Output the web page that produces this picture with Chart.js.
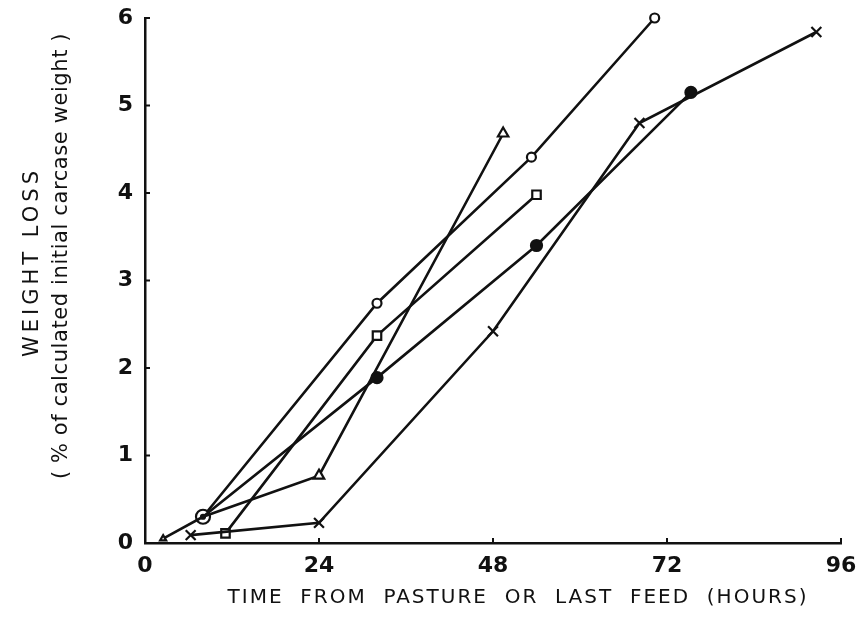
<!DOCTYPE html>
<html>
<head>
<meta charset="utf-8">
<script src="https://cdn.jsdelivr.net/npm/chart.js@4"></script>
<style>
  html, body { margin: 0; padding: 0; background: #fff; }
  #wrap { width: 861px; height: 626px; }
</style>
</head>
<body>
<div id="wrap"><canvas id="chart" width="861" height="626"></canvas></div>
<script>
// hours since pasture / last feed, weight loss in %
const xTicks = [0, 24, 48, 72, 96];
const yTicks = [0, 1, 2, 3, 4, 5, 6];

const circleHours = [8, 32, 53.3, 70.3];
const circleLoss = [0.3, 2.74, 4.41, 6.0];

const dotHours = [8, 32, 54, 75.3];
const dotLoss = [0.3, 1.89, 3.4, 5.15];

const triHours = [2.5, 8, 24, 49.4];
const triLoss = [0.05, 0.3, 0.77, 4.68];

const squareHours = [11.1, 32, 54];
const squareLoss = [0.11, 2.37, 3.98];

const crossHours = [6.3, 24, 48, 68.2, 92.6];
const crossLoss = [0.09, 0.23, 2.42, 4.8, 5.84];

const xTitle = 'TIME  FROM  PASTURE  OR  LAST  FEED  (HOURS)';
const yTitle1 = 'WEIGHT LOSS';
const yTitle2 = '( % of calculated initial carcase weight )';

function pts(xs, ys) {
  return xs.map((x, i) => ({ x: x, y: ys[i] }));
}

const ink = '#111';

function series(xs, ys, style, radius, fill) {
  return {
    data: pts(xs, ys),
    borderColor: ink,
    borderWidth: 2.6,
    pointStyle: style,
    pointRadius: radius,
    pointBorderColor: ink,
    pointBorderWidth: 2.2,
    pointBackgroundColor: fill,
    tension: 0,
    fill: false,
    clip: false
  };
}

const datasets = [
  series(triHours, triLoss, 'triangle',
    ctx => ctx.dataIndex === 1 ? 0 : (ctx.dataIndex === 0 ? 3.5 : 6), '#fff'),
  series(crossHours, crossLoss, 'crossRot', 7, '#fff'),
  series(squareHours, squareLoss, 'rect', 6, '#fff'),
  series(dotHours, dotLoss, 'circle', ctx => ctx.dataIndex === 0 ? 2 : 5.5, ink),
  series(circleHours, circleLoss, 'circle', ctx => ctx.dataIndex === 0 ? 7 : 4.5, '#fff')
];

// inward tick marks and hand-placed axis titles
const decor = {
  id: 'decor',
  afterDraw(chart) {
    const c = chart.ctx;
    const xs = chart.scales.x, ys = chart.scales.y;
    const a = chart.chartArea;
    c.save();
    c.strokeStyle = ink;
    c.lineWidth = 2;
    xTicks.forEach(v => {
      const px = xs.getPixelForValue(v);
      c.beginPath(); c.moveTo(px, a.bottom); c.lineTo(px, a.bottom - 5); c.stroke();
    });
    yTicks.forEach(v => {
      const py = ys.getPixelForValue(v);
      c.beginPath(); c.moveTo(a.left, py); c.lineTo(a.left + 5, py); c.stroke();
    });
    c.fillStyle = ink;
    c.textAlign = 'center';
    c.textBaseline = 'middle';
    c.font = '20px "DejaVu Sans"';
    c.letterSpacing = '2px';
    c.fillText(xTitle, 518, 598);
    c.save();
    c.translate(33, 262);
    c.rotate(-Math.PI / 2);
    c.font = '21px "DejaVu Sans"';
    c.letterSpacing = '4px';
    c.fillText(yTitle1, 0, 0);
    c.restore();
    c.save();
    c.translate(62, 256);
    c.rotate(-Math.PI / 2);
    c.font = '21px "DejaVu Sans"';
    c.letterSpacing = '0.6px';
    c.fillText(yTitle2, 0, 0);
    c.restore();
    c.restore();
  }
};

new Chart(document.getElementById('chart').getContext('2d'), {
  type: 'line',
  data: { datasets: datasets },
  plugins: [decor],
  options: {
    responsive: false,
    animation: false,
    layout: { padding: { top: 18, right: 20, left: 0, bottom: 0 } },
    plugins: { legend: { display: false }, tooltip: { enabled: false } },
    scales: {
      x: {
        type: 'linear',
        min: 0, max: 96,
        afterBuildTicks: s => { s.ticks = xTicks.map(v => ({ value: v })); },
        afterFit: s => { s.height = 83; s.paddingLeft = 0; s.paddingRight = 0; },
        grid: { display: false, drawTicks: false },
        border: { display: true, color: ink, width: 2.5 },
        ticks: { color: ink, padding: 10, font: { family: 'DejaVu Sans', size: 22, weight: 'bold' } }
      },
      y: {
        type: 'linear',
        min: 0, max: 6,
        afterBuildTicks: s => { s.ticks = yTicks.map(v => ({ value: v })); },
        afterFit: s => { s.width = 145; s.paddingTop = 0; s.paddingBottom = 0; },
        grid: { display: false, drawTicks: false },
        border: { display: true, color: ink, width: 2.5 },
        ticks: { color: ink, padding: 12, font: { family: 'DejaVu Sans', size: 22, weight: 'bold' } }
      }
    }
  }
});
</script>
</body>
</html>
